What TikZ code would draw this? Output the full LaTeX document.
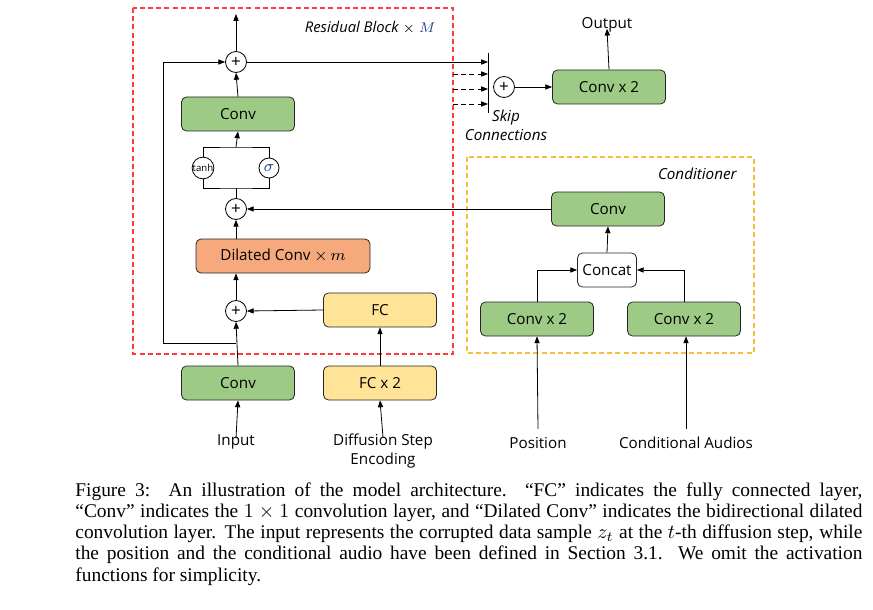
\documentclass[tikz,border=0pt]{standalone}
\usepackage{fontspec}
\setmainfont{Liberation Serif}
\newfontfamily\diagfont{Open Sans}
\usepackage{tikz}
\usepgflibrary{arrows.meta}
\usetikzlibrary{calc}
\pgfdeclarelayer{background}
\pgfsetlayers{background,main}
\definecolor{convgreen}{HTML}{9DCB86}
\definecolor{fcyellow}{HTML}{FFE497}
\definecolor{dilorange}{HTML}{F5A97C}
\definecolor{resred}{HTML}{FF3B3B}
\definecolor{condgold}{HTML}{F7BE3A}
\definecolor{mblue}{HTML}{1F3C88}

\begin{document}
\begin{tikzpicture}[x=0.5pt,y=-0.5pt,line width=0.6pt,
    >={Triangle[length=3.4pt,width=2.6pt]},
    box/.style={draw=black!85,rounded corners=2.5pt,inner sep=0pt,minimum width=56.5pt,
      minimum height=17pt,font=\diagfont\fontsize{7.6}{9}\selectfont},
    plus/.style={draw,circle,inner sep=0pt,minimum size=10.5pt,font=\diagfont\fontsize{8.5}{8.5}\selectfont},
    gate/.style={draw,circle,inner sep=0pt,minimum size=10pt},
    lab/.style={inner sep=1pt,font=\diagfont\fontsize{7.6}{9.5}\selectfont},
    frame/.style={line width=0.75pt,dash pattern=on 2.5pt off 1.6pt}]
    \useasboundingbox (0,0) rectangle (873,610);
    % frames
    \begin{pgfonlayer}{background}
        \draw[frame,resred] (133,8) rectangle (453,354);
        \draw[frame,condgold] (467,157) rectangle (754,353);
    \end{pgfonlayer}
    \node[lab,anchor=east,font=\diagfont\itshape\fontsize{7.4}{9}\selectfont] (resname) at (438,28)
        {Residual Block $\times$ \textcolor{mblue}{$M$}};
    \node[lab,anchor=east,font=\diagfont\itshape\fontsize{7.6}{9}\selectfont] (condname) at (739,174) {Conditioner};
    % blocks
    \node[box,fill=convgreen] (topconv) at (238,114) {Conv};
    \node[box,fill=dilorange,minimum width=87pt] (dilconv) at (283,256) {Dilated Conv $\times\,m$};
    \node[box,fill=fcyellow] (fc) at (380,310) {FC};
    \node[box,fill=convgreen] (inconv) at (238,383) {Conv};
    \node[box,fill=fcyellow] (fctwo) at (380,383) {FC x 2};
    \node[box,fill=convgreen] (outconv) at (609,87) {Conv x 2};
    \node[box,fill=convgreen] (condconv) at (608,209) {Conv};
    \node[box,fill=white,minimum width=29.5pt] (concat) at (607,270) {Concat};
    \node[box,fill=convgreen] (posconv) at (537,319) {Conv x 2};
    \node[box,fill=convgreen] (audconv) at (684,319) {Conv x 2};
    \foreach \pt/\lab in {(236,62)/addout, (236,209)/addcond, (236,311)/addstep, (504,87)/addskip}{
    \node[plus] (\lab) at \pt {+};
    }
    \node[gate,font=\diagfont\fontsize{4.8}{5}\selectfont] (tanhgate) at (203,168) {tanh};
    \node[gate,font=\fontsize{8}{8}\selectfont] (sigmagate) at (269,168) {\textcolor{mblue}{$\sigma$}};
    % labels
    \node[lab] (output) at (607,25) {Output};
    \node[lab] (input) at (236,442) {Input};
    \node[lab,align=center] (steplab) at (383,451) {Diffusion Step\\Encoding};
    \node[lab] (poslab) at (538,443) {Position};
    \node[lab] (audlab) at (686,443) {Conditional Audios};
    \node[lab,align=center,font=\diagfont\itshape\fontsize{7.6}{9.5}\selectfont] (skiplab) at (506,125) {Skip\\Connections};
    \coordinate (resout) at (236,14);
    \coordinate (resfork) at (236,343);
    \coordinate (gatetop) at (236,147);
    \coordinate (gatebot) at (236,188);
    \coordinate (skiptop) at (488,53);
    \coordinate (skipbot) at (488,113);
    % connections
    \draw[->] ([yshift=-3pt]input.north) -- (inconv.south);
    \draw[->] ([yshift=-3pt]steplab.north) -- (fctwo.south);
    \draw[->] (fctwo.north) -- (fc.south);
    \draw[->] (inconv.north) -- (addstep.south);
    \draw[->] (fc.west) -- (addstep.east);
    \draw[->] (addstep.north) -- (dilconv.south -| addstep.north);
    \draw[->] (dilconv.north -| addcond.south) -- (addcond.south);
    \draw[->] (condconv.west) -- (addcond.east);
    \draw (addcond.north) -- (gatebot);
    \draw (tanhgate.south) |- (gatebot) -| (sigmagate.south);
    \draw (tanhgate.north) |- (gatetop) -| (sigmagate.north);
    \draw[->] (gatetop) -- (topconv.south);
    \draw[->] (topconv.north) -- (addout.south);
    \draw[->] (addout.north) -- (resout);
    \draw[->] (resfork) -- ++(-73,0) |- (addout.west);
    \draw (skiptop) -- (skipbot);
    \draw[->] (addout.east) -- (addout.east -| skiptop);
    \foreach \y in {74,89,104}{
    \draw[->,dashed,dash pattern=on 2.5pt off 1.6pt] (453,\y) -- (488,\y);
    }
    \draw[->] (addskip.east) -- (outconv.west);
    \draw[->] (outconv.north) -- ([yshift=3pt]output.south);
    \draw[->] ([yshift=3pt]poslab.north) -- (posconv.south);
    \draw[->] ([yshift=3pt]audlab.north) -- (audconv.south -| audlab.north);
    \draw[->] (posconv.north) |- (concat.west);
    \draw[->] (audconv.north) |- (concat.east);
    \draw[->] (concat.north) -- (condconv.south);
    % caption
    \node[anchor=north west,inner sep=0pt,text width=393.5pt,align=justify,
        font=\fontsize{9.7}{10.65}\selectfont] (caption) at (75,482)
        {\hyphenpenalty=10000 Figure 3:\ \ An illustration of the model architecture.\ \ ``FC'' indicates the fully connected layer,\linebreak
        ``Conv'' indicates the $1\times1$ convolution layer, and ``Dilated Conv'' indicates the bidirectional dilated\linebreak
        convolution layer. The input represents the corrupted data sample $z_t$ at the $t$-th diffusion step, while\linebreak
        the position and the conditional audio have been defined in Section 3.1.\ \ We omit the activation\linebreak
        functions for simplicity.};
\end{tikzpicture}
\end{document}
